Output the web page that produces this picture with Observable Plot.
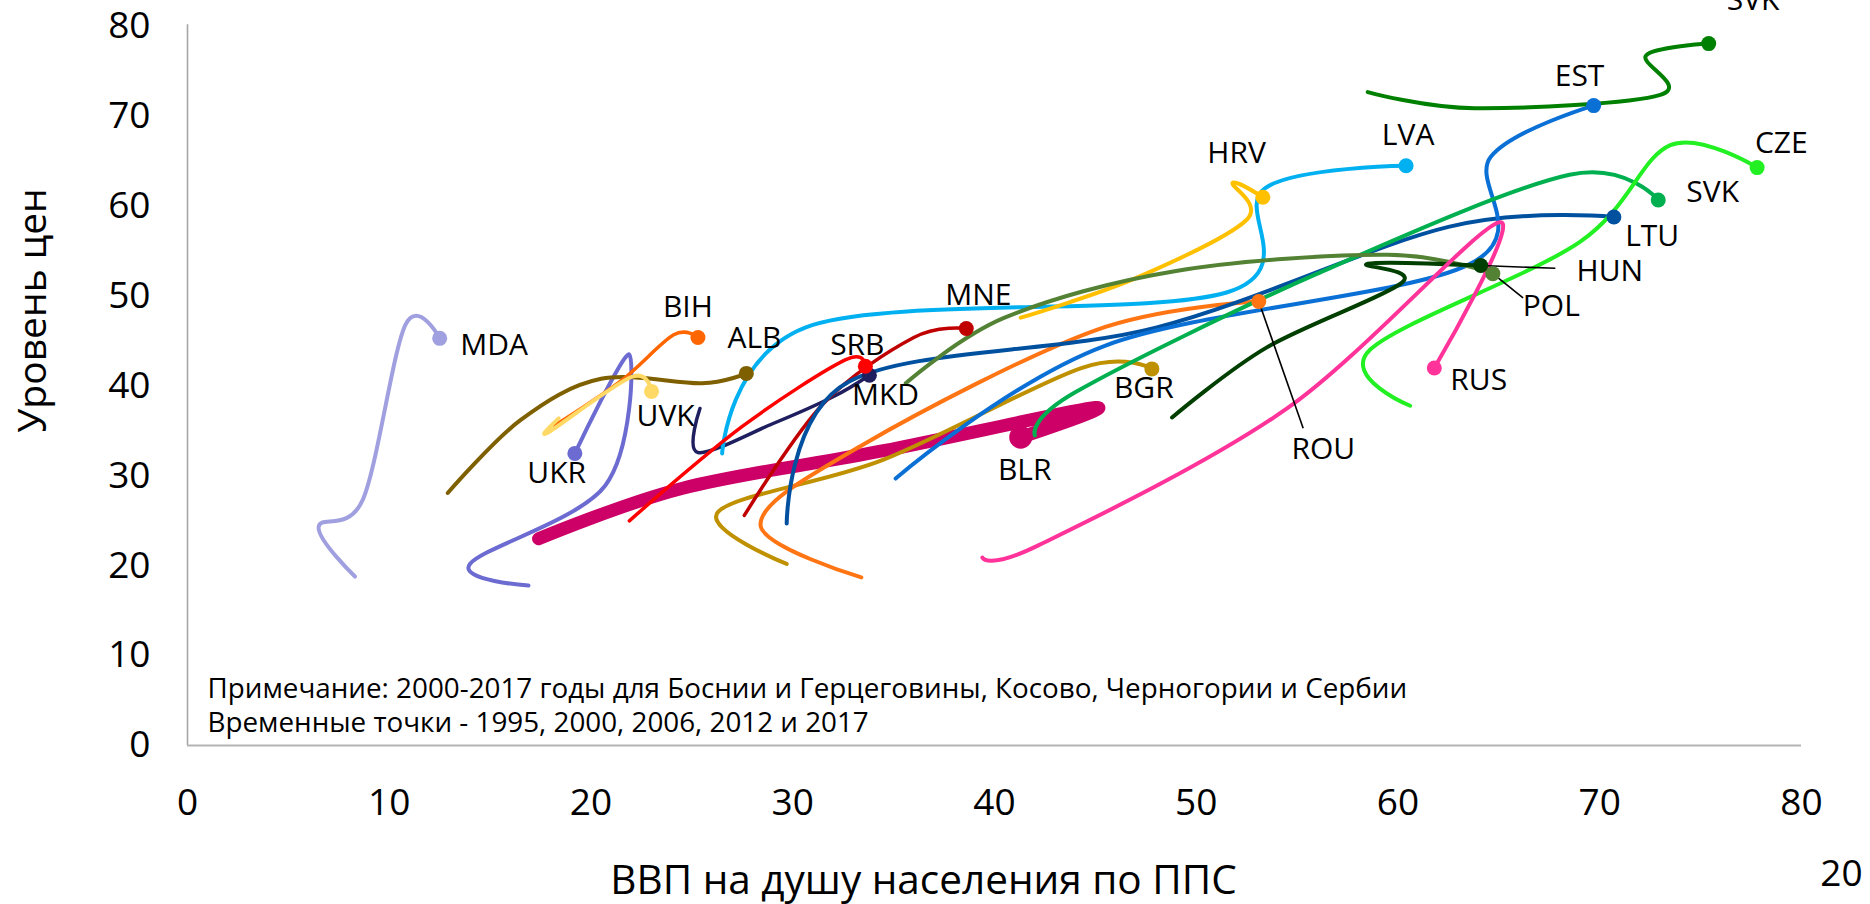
<!DOCTYPE html>
<html><head><meta charset="utf-8">
<script src="https://cdn.jsdelivr.net/npm/d3@7"></script>
<script src="https://cdn.jsdelivr.net/npm/@observablehq/plot@0.6"></script>
<style>
html,body{margin:0;padding:0;background:#fff;}
#chart{width:1870px;height:904px;overflow:hidden;}
</style></head><body><div id="chart"></div>
<script>
// ---- data ----
const seriesIds    = ["BLR","MDA","UKR","ALB","BIH","UVK","BGR","ROU","MKD","LVA","SRB","MNE","LTU","EST","HRV","SVK","POL","HUN","CZE","SVN","RUS"];
const seriesLabels = ["BLR","MDA","UKR","ALB","BIH","UVK","BGR","ROU","MKD","LVA","SRB","MNE","LTU","EST","HRV","SVK","POL","HUN","CZE","SVK","RUS"];
const yearsFull  = ["1995","2000","2006","2012","2017"];
const yearsShort = ["2000","2006","2012","2017"];
const gdpValues = [
  [17.4,24.5,34.5,45.0,41.3],
  [8.3,6.5,8.7,10.8,12.5],
  [16.9,14.0,20.7,21.9,19.2],
  [12.9,16.5,20.5,25.5,27.7],
  [18.2,21.5,24.1,25.3],
  [18.4,17.85,22.0,23.0],
  [29.7,26.3,34.5,44.3,47.8],
  [33.4,28.4,33.5,45.0,53.1],
  [25.4,25.3,29.0,32.0,33.8],
  [26.5,31.0,51.5,53.4,60.4],
  [21.9,27.5,32.6,33.6],
  [27.6,31.5,36.0,38.6],
  [29.7,32.8,48.0,62.5,70.7],
  [35.1,45.5,63.5,64.6,69.7],
  [41.3,47.0,52.5,51.8,53.3],
  [42.0,44.0,56.0,68.5,72.9],
  [35.6,40.5,49.0,59.5,64.7],
  [48.8,53.5,60.2,58.5,64.1],
  [60.6,58.6,69.0,73.5,77.8],
  [58.5,63.8,73.0,72.3,75.4],
  [39.4,42.2,54.5,65.0,61.8]
];
const priceValues = [
  [23.0,28.6,32.8,37.6,34.3],
  [18.8,24.3,27.4,46.8,45.3],
  [17.8,20.2,28.9,43.5,32.5],
  [28.1,36.2,40.8,40.3,41.4],
  [35.6,40.6,45.7,45.4],
  [36.4,34.8,41.0,39.4],
  [20.2,26.0,31.8,42.0,41.9],
  [18.7,24.6,33.5,46.2,49.4],
  [37.5,32.6,35.8,38.8,41.2],
  [32.5,46.8,50.4,62.0,64.5],
  [25.0,35.5,42.9,42.2],
  [25.6,38.0,45.4,46.4],
  [24.7,40.5,46.5,57.7,58.8],
  [29.7,44.5,53.5,65.5,71.2],
  [47.6,52.0,58.5,62.6,61.0],
  [34.5,39.3,52.5,63.5,60.7],
  [40.3,47.6,52.8,54.6,52.5],
  [36.5,44.3,51.5,53.6,53.4],
  [37.8,44.0,56.0,66.8,64.3],
  [72.7,70.9,72.4,76.8,78.1],
  [20.9,22.3,37.5,58.2,42.0]
];
// label anchor positions (in data units)
const labelGdp   = [41.5,15.2,18.3,28.1,24.8,23.7,47.4,56.3,34.6,60.5,33.2,39.2,72.6,69.0,52.0,75.6,67.6,70.5,79.0,77.6,64.0];
const labelPrice = [30.6,44.5,30.3,45.3,48.8,36.6,39.7,33.0,38.9,67.9,44.5,50.1,56.7,74.5,65.9,61.5,48.9,52.8,67.0,82.9,40.6];
const leaderIds      = ["HUN","POL","ROU"];
const leaderEndGdp   = [67.8,66.2,55.3];
const leaderEndPrice = [53.1,49.8,35.3];
const xTicks = [0,10,20,30,40,50,60,70,80];
const yTicks = [0,10,20,30,40,50,60,70,80];
const xTitle = "ВВП на душу населения по ППС";
const yTitle = "Уровень цен";
const noteLines = ["Примечание: 2000-2017 годы для Боснии и Герцеговины, Косово, Черногории и Сербии",
                   "Временные точки - 1995, 2000, 2006, 2012 и 2017"];
const pageNumber = "20";

// ---- styles ----
const seriesColors = ["#cc0066","#a0a0e0","#6b6bd1","#7f6000","#ff6600","#ffd966","#bf9000","#ff7514","#1f1f5f","#00b0f0","#ff0000","#c00000","#0050a0","#0a70d6","#ffc000","#00b050","#548235","#003f00","#22f022","#008000","#ff3399"];
const seriesWidths = [13,4,4,4,3.5,4,4,4,3.5,4,3.5,3.5,4,4,4,4,4,4,4,4,4];

// ---- build rows ----
const rows = seriesIds.map((id, i) => gdpValues[i].map((g, j) => ({
  id, year: (gdpValues[i].length === 5 ? yearsFull : yearsShort)[j], x: g, y: priceValues[i][j]
})));
const ends = seriesIds.map((id, i) => ({id, i, x: gdpValues[i].at(-1), y: priceValues[i].at(-1), color: seriesColors[i]}));
const labels = seriesIds.map((id, i) => ({text: seriesLabels[i], x: labelGdp[i], y: labelPrice[i]}));
const leaders = leaderIds.map((id, k) => {
  const e = ends.find(d => d.id === id);
  return {x1: e.x, y1: e.y, x2: leaderEndGdp[k], y2: leaderEndPrice[k]};
});

const font = "'Open Sans', 'Noto Sans', sans-serif";

const chart = Plot.plot({
  width: 1870, height: 904,
  marginLeft: 187, marginRight: 69, marginTop: 26, marginBottom: 159,
  x: {domain: [0, 80], label: null},
  y: {domain: [0, 80], label: null},
  style: {fontFamily: font, background: "#fff", color: "#000"},
  marks: [
    Plot.ruleX([0], {y1: 0, y2: 80.2, stroke: "#a6a6a6", strokeWidth: 1.6}),
    Plot.ruleY([0], {x1: 0, x2: 80, stroke: "#b4b4b4", strokeWidth: 2}),
    Plot.axisX({ticks: xTicks, tickSize: 0, tickPadding: 43, fontSize: 37, label: null}),
    Plot.axisY({ticks: yTicks, tickSize: 0, tickPadding: 37, fontSize: 37, label: null}),
    ...rows.map((r, i) => Plot.line(r, {
      x: "x", y: "y", curve: "cardinal", tension: 0,
      stroke: seriesColors[i], strokeWidth: seriesWidths[i],
      strokeLinecap: "round", strokeLinejoin: "round"
    })),
    Plot.link(leaders, {x1: "x1", y1: "y1", x2: "x2", y2: "y2", stroke: "#000", strokeWidth: 1.6}),
    Plot.dot(ends.filter(d => d.id !== "BLR"), {x: "x", y: "y", fill: "color", r: 7.5, stroke: "none"}),
    Plot.dot(ends.filter(d => d.id === "BLR"), {x: "x", y: "y", fill: "color", r: 11.5, stroke: "none"}),
    Plot.text(labels, {x: "x", y: "y", text: "text", fontSize: 30, fill: "#000"}),
    Plot.text([noteLines[0]], {frameAnchor: "bottom-left", text: d => d, textAnchor: "start", lineAnchor: "middle", dx: 20, dy: -56, fontSize: 27.8, fill: "#000"}),
    Plot.text([noteLines[1]], {frameAnchor: "bottom-left", text: d => d, textAnchor: "start", lineAnchor: "middle", dx: 20, dy: -22, fontSize: 27.8, fill: "#000"}),
    Plot.text([yTitle], {frameAnchor: "left", text: d => d, textAnchor: "middle", lineAnchor: "middle", rotate: -90, dx: -154, dy: -75.5, fontSize: 39, fill: "#000"}),
    Plot.text([xTitle], {frameAnchor: "bottom", text: d => d, textAnchor: "middle", lineAnchor: "middle", dx: -71, dy: 136, fontSize: 40.5, fill: "#000"}),
    Plot.text([pageNumber], {frameAnchor: "bottom-right", text: d => d, textAnchor: "middle", lineAnchor: "middle", dx: 40, dy: 129, fontSize: 37, fill: "#000"})
  ]
});
document.getElementById("chart").appendChild(chart);
</script>
</body></html>
